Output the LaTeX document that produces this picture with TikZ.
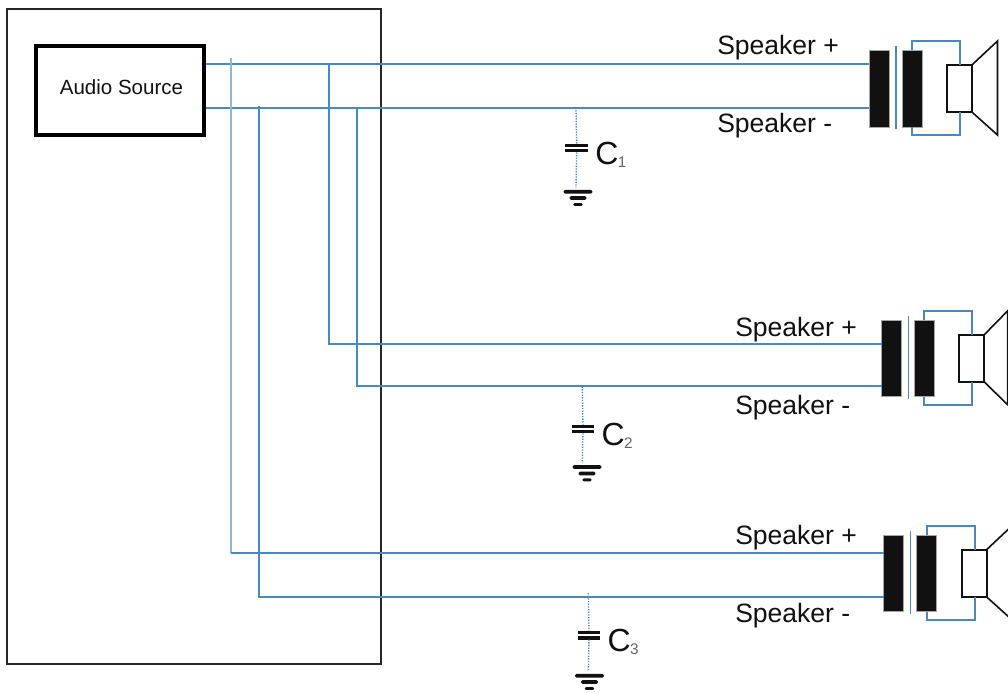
\documentclass[tikz,border=0pt]{standalone}
\usepackage{fontspec}
\setmainfont{Liberation Sans}
\definecolor{wire}{HTML}{4A88BD}
\definecolor{wirelight}{HTML}{8FB8D8}
\definecolor{ink}{HTML}{111111}
\tikzset{
  x=0.75pt,y=-0.75pt,
  wireline/.style={draw=wire,line width=1.5pt},
  lightwire/.style={draw=wirelight,line width=1.2pt},
  coil/.style={draw=gray!70,line width=0.4pt,fill=ink,minimum width=15pt,minimum height=57.5pt,inner sep=0pt,outer sep=0pt},
  conebox/.style={draw=ink,line width=1.5pt,fill=white,minimum width=18.8pt,minimum height=35.5pt,inner sep=0pt,outer sep=0pt},
  coneline/.style={draw=ink,line width=1.2pt},
  corebar/.style={draw=wire,line width=1.2pt},
  plate/.style={fill=ink,minimum width=17pt,minimum height=2.6pt,inner sep=0pt,outer sep=0pt},
  gnd/.style={fill=ink,rounded corners=1pt,inner sep=0pt,outer sep=0pt},
  dotwire/.style={draw=wire,line width=1pt,densely dotted},
  spklabel/.style={anchor=base west,inner sep=0pt,font=\fontsize{19.9pt}{22pt}\selectfont,text=ink},
  caplabel/.style={anchor=base west,inner sep=0pt,font=\fontsize{24pt}{26pt}\selectfont,text=ink},
  subbed/.style={anchor=base west,inner sep=0pt,font=\fontsize{11.5pt}{13pt}\selectfont,text=black!60},
}
% #1 name, #2 x-shift, #3 y-shift, #4 x of the cone's front edge
\newcommand{\speakerunit}[4]{%
  \node[coil] (#1L) at (879+#2,88.5+#3) {};
  \node[coil] (#1R) at (912+#2,88.5+#3) {};
  \coordinate (#1A) at (896+#2,46+#3);
  \coordinate (#1B) at (896+#2,129+#3);
  \draw[corebar] (#1A) -- (#1B);
  \node[conebox] (#1M) at (959.5+#2,88.5+#3) {};
  \coordinate (#1T) at (912+#2,50+#3);
  \coordinate (#1U) at (912+#2,127+#3);
  \draw[wireline] (#1T) -- (912+#2,41+#3) -| (960+#2,65+#3);
  \draw[wireline] (#1U) -- (912+#2,135+#3) -| (960+#2,112+#3);
  \coordinate (#1C) at (#4,41+#3);
  \coordinate (#1D) at (#4,135+#3);
  \draw[coneline] (#1M.north east) -- (#1C) -- (#1D) -- (#1M.south east);
}
% #1 name, #2 wire x, #3 wire top y, #4 plates mid y, #5 ground x, #6 ground top y, #7 index
\newcommand{\capunit}[7]{%
  \coordinate (#1J) at (#2,#3);
  \node[plate] (#1P) at (#2+0.7,#4-2.6) {};
  \node[plate] (#1Q) at (#2+0.7,#4+2.6) {};
  \node[gnd,minimum width=21.5pt,minimum height=2.8pt] (#1G) at (#5,#6) {};
  \node[gnd,minimum width=12.5pt,minimum height=2.8pt] (#1H) at (#5,#6+6.4) {};
  \node[gnd,minimum width=7pt,minimum height=2.2pt] (#1I) at (#5,#6+12.8) {};
  \coordinate (#1E) at (#2,#6-4);
  \draw[dotwire] (#1J) -- (#1P);
  \draw[dotwire] (#1Q) -- (#1E);
  \node[caplabel] (#1N) at (#2+19,#4+16) {C};
  \node[subbed] (#1S) at (#2+41.5,#4+19.5) {#7};
}
\begin{document}
\begin{tikzpicture}
\useasboundingbox (0,0) rectangle (1008,693);
\clip (0,0) rectangle (1008,693);
\fill[white] (0,0) rectangle (1008,693);
\node[draw=black!85,line width=1.1pt,minimum width=280.5pt,minimum height=491.5pt,inner sep=0pt] (rack) at (194,336.5) {};
\node[draw=black,line width=3.2pt,fill=white,minimum width=126pt,minimum height=66.5pt,inner sep=0pt] (src) at (120,90.5) {};
\node[anchor=base,inner sep=0pt,font=\fontsize{15.4pt}{18pt}\selectfont,text=ink] (srct) at (121.5,94) {Audio Source};

\speakerunit{a}{0}{0}{997.5}
\speakerunit{b}{12.3}{269.8}{1007.7}
\speakerunit{c}{14.6}{484.8}{1012}

\coordinate (s1) at (206,63.5);
\coordinate (s2) at (206,107.5);
\coordinate (j1) at (329,63.5);
\coordinate (j2) at (357,107.5);
\coordinate (j3) at (231,58);
\coordinate (j3b) at (231,553.2);
\coordinate (j4) at (259.3,106);
\coordinate (e1) at (869,63.5);
\coordinate (e2) at (869,107.5);
\coordinate (e3) at (882,344.3);
\coordinate (e4) at (882,386.3);
\coordinate (e5) at (884,553.2);
\coordinate (e6) at (884,597);
\draw[wireline] (s1) -- (e1);
\draw[wireline] (s2) -- (e2);
\draw[wireline] (j1) |- (e3);
\draw[wireline] (j2) |- (e4);
\draw[lightwire] (j3) -- (j3b);
\draw[wireline] (j3b) -- (e5);
\draw[wireline] (j4) |- (e6);

\node[spklabel] (la1) at (717,54) {Speaker +};
\node[spklabel] (la2) at (717,132) {Speaker -};
\node[spklabel] (lb1) at (735,336) {Speaker +};
\node[spklabel] (lb2) at (735,414) {Speaker -};
\node[spklabel] (lc1) at (735,544) {Speaker +};
\node[spklabel] (lc2) at (735,622) {Speaker -};

\capunit{p}{576}{107.5}{148}{578}{191.7}{1}
\capunit{q}{582.3}{386.5}{429}{587}{467}{2}
\capunit{r}{588.3}{593}{635.2}{589.5}{675.7}{3}
\end{tikzpicture}
\end{document}
